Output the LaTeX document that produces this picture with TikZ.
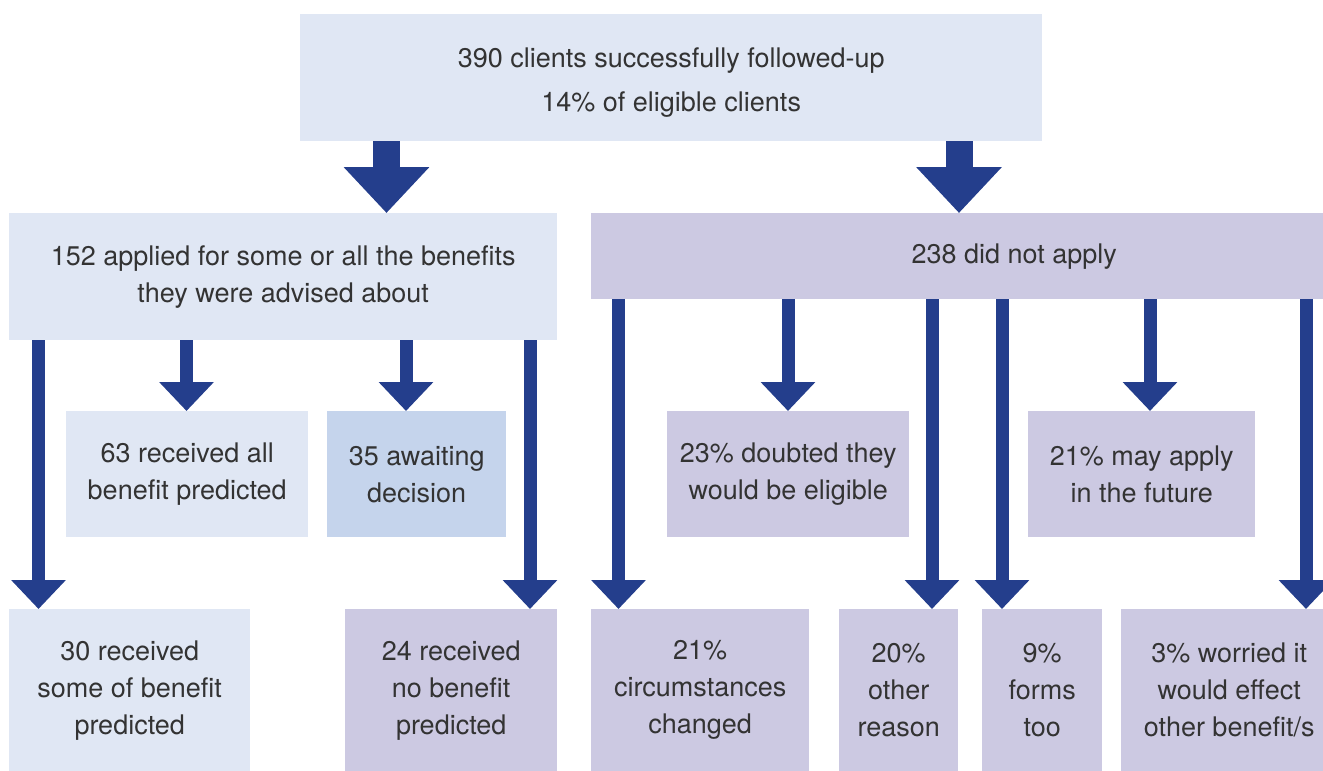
\documentclass[tikz,border=0pt]{standalone}
\usepackage{fontspec}
\setmainfont{TeX Gyre Heros}
\usetikzlibrary{arrows.meta}
\definecolor{paleblue}{RGB}{224,231,244}
\definecolor{midblue}{RGB}{197,212,236}
\definecolor{lavender}{RGB}{204,201,226}
\definecolor{navy}{RGB}{36,62,140}
\definecolor{textgrey}{RGB}{51,51,51}

\tikzset{
  box/.style={anchor=north west, inner sep=0pt, align=center, text=textgrey,
    font=\fontsize{27}{37}\selectfont},
  pale/.style={box, fill=paleblue},
  mid/.style={box, fill=midblue},
  lilac/.style={box, fill=lavender},
  bigflow/.style={navy, line width=27pt, -{Triangle[width=83pt,length=46pt]}},
  flow/.style={navy, line width=13pt, -{Triangle[width=53pt,length=29pt]}}
}

\begin{document}
\begin{tikzpicture}[x=1pt,y=1pt,yscale=-1]
\useasboundingbox (0,0) rectangle (1323,771);

% first level
\node[pale, minimum width=742pt, minimum height=127pt] (followed) at (300,14)
  {\rule{0pt}{30pt}390 clients successfully followed-up\\[7pt]14\% of eligible clients};

% second level
\node[pale, minimum width=548pt, minimum height=127pt] (applied) at (9,213)
  {152 applied for some or all the benefits\\they were advised about};
\node[lilac, minimum width=846pt, minimum height=86pt] (notapplied) at (591,213)
  {238 did not apply};

% third level
\node[pale, minimum width=242pt, minimum height=126pt] (allbenefit) at (66,411)
  {63 received all\\benefit predicted};
\node[mid, minimum width=179pt, minimum height=126pt] (awaiting) at (327,411)
  {35 awaiting\\decision};
\node[lilac, minimum width=242pt, minimum height=126pt] (doubted) at (667,411)
  {23\% doubted they\\would be eligible};
\node[lilac, minimum width=227pt, minimum height=126pt] (mayapply) at (1028,411)
  {21\% may apply\\in the future};

% bottom row
\node[pale, minimum width=241pt, minimum height=162pt] (somebenefit) at (9,609)
  {30 received\\some of benefit\\predicted};
\node[lilac, minimum width=212pt, minimum height=162pt] (nobenefit) at (345,609)
  {24 received\\no benefit\\predicted};
\node[lilac, minimum width=218pt, minimum height=162pt] (circumstances) at (591,609)
  {21\%\\circumstances\\changed};
\node[lilac, minimum width=119pt, minimum height=162pt] (otherreason) at (839,609)
  {20\%\\other\\reason};
\node[lilac, minimum width=120pt, minimum height=162pt] (forms) at (982,609)
  {9\%\\forms\\too};
\node[lilac, minimum width=216pt, minimum height=162pt] (worried) at (1121,609)
  {3\% worried it\\would effect\\other benefit/s};

% arrows
\draw[bigflow] (386.5,0 |- followed.south) -- (386.5,0 |- applied.north);
\draw[bigflow] (959,0 |- followed.south) -- (959,0 |- notapplied.north);

\draw[flow] (38.5,0 |- applied.south) -- (38.5,0 |- somebenefit.north);
\draw[flow] (186.5,0 |- applied.south) -- (186.5,0 |- allbenefit.north);
\draw[flow] (406,0 |- applied.south) -- (406,0 |- awaiting.north);
\draw[flow] (530,0 |- applied.south) -- (530,0 |- nobenefit.north);

\draw[flow] (618.5,0 |- notapplied.south) -- (618.5,0 |- circumstances.north);
\draw[flow] (788,0 |- notapplied.south) -- (788,0 |- doubted.north);
\draw[flow] (932,0 |- notapplied.south) -- (932,0 |- otherreason.north);
\draw[flow] (1002,0 |- notapplied.south) -- (1002,0 |- forms.north);
\draw[flow] (1150,0 |- notapplied.south) -- (1150,0 |- mayapply.north);
\draw[flow] (1306,0 |- notapplied.south) -- (1306,0 |- worried.north);
\end{tikzpicture}
\end{document}
